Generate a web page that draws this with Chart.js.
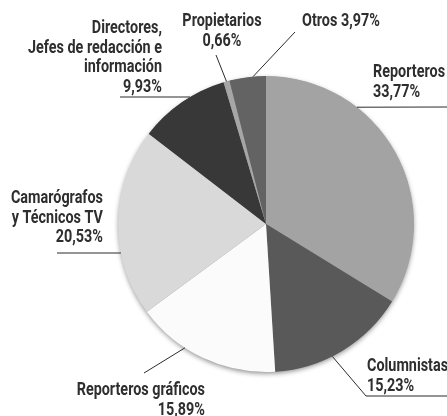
<!DOCTYPE html>
<html>
<head>
<meta charset="utf-8">
<script src="https://cdn.jsdelivr.net/npm/chart.js@4.4.0/dist/chart.umd.min.js"></script>
<style>
  html, body { margin: 0; padding: 0; background: #fff; }
  #pie { display: block; }
</style>
</head>
<body>
<canvas id="pie" width="447" height="416"></canvas>
<script>
// data, clockwise from the top
const categories = ['Reporteros', 'Columnistas', 'Reporteros gráficos', 'Camarógrafos y Técnicos TV',
                    'Directores, Jefes de redacción e información', 'Propietarios', 'Otros'];
const shares = [33.77, 15.23, 15.89, 20.53, 9.93, 0.66, 3.97];
const labelTexts = [
    ['Reporteros', '33,77%'],
    ['Columnistas', '15,23%'],
    ['Reporteros gráficos', '15,89%'],
    ['Camarógrafos', 'y Técnicos TV', '20,53%'],
    ['Directores,', 'Jefes de redacción e', 'información', '9,93%'],
    ['Propietarios', '0,66%'],
    ['Otros 3,97%']
];

const sliceColors = ['#a3a3a3', '#595959', '#fbfbfb', '#d9d9d9', '#383838', '#a6a6a6', '#636363'];

// where each label sits and how its leader line runs (edge = degrees clockwise from top)
const labelLayout = [
    {x: 373, y: 77, align: 'left', edge: 37.9, path: [[447, 107]]},
    {x: 367, y: 371, align: 'left', edge: 153.4, path: [[366, 396], [447, 396]]},
    {x: 205, y: 395, align: 'right', edge: 213.2, path: [[144, 373]]},
    {x: 103, y: 203, align: 'right', edge: 258.7, path: [[57, 253]]},
    {x: 162, y: 33, align: 'right', edge: 329.1, path: [[120, 97]]},
    {x: 222, y: 26, align: 'center', edge: 344.5, path: [[216, 55]]},
    {x: 302, y: 26, align: 'left', edge: 355, path: [[295, 32]]}
];

const LABEL_FONT = 'bold 18px Roboto, "Liberation Sans", sans-serif';
const LINE_GAP = 19.5;
// the printed face is condensed: squeeze so this line is 134px wide
const REF_LINE = 'Jefes de redacción e', REF_WIDTH = 134;

const shadowPlugin = {
    id: 'pieShadow',
    beforeDatasetsDraw(chart) {
        const arc = chart.getDatasetMeta(0).data[0];
        if (!arc) return;
        const ctx = chart.ctx;
        ctx.save();
        ctx.shadowColor = 'rgba(0,0,0,0.45)';
        ctx.shadowBlur = 5;
        ctx.shadowOffsetX = 0;
        ctx.shadowOffsetY = 2;
        ctx.fillStyle = '#888';
        ctx.beginPath();
        ctx.arc(arc.x, arc.y, arc.outerRadius - 0.5, 0, Math.PI * 2);
        ctx.fill();
        ctx.restore();
    }
};

const labelPlugin = {
    id: 'sliceLabels',
    afterDatasetsDraw(chart) {
        const arc = chart.getDatasetMeta(0).data[0];
        if (!arc) return;
        const ctx = chart.ctx;
        const cx = arc.x, cy = arc.y, r = arc.outerRadius;
        ctx.save();
        ctx.strokeStyle = '#2b2b2b';
        ctx.lineWidth = 1;
        labelLayout.forEach(function (lay) {
            const a = lay.edge * Math.PI / 180;
            ctx.beginPath();
            ctx.moveTo(cx + r * Math.sin(a), cy - r * Math.cos(a));
            lay.path.forEach(function (p) { ctx.lineTo(p[0], p[1]); });
            ctx.stroke();
        });
        ctx.font = LABEL_FONT;
        ctx.fillStyle = '#2e2e2e';
        ctx.textBaseline = 'alphabetic';
        const sx = REF_WIDTH / ctx.measureText(REF_LINE).width;
        labelLayout.forEach(function (lay, i) {
            ctx.textAlign = lay.align;
            labelTexts[i].forEach(function (line, j) {
                ctx.save();
                ctx.translate(lay.x, lay.y + j * LINE_GAP);
                ctx.scale(sx, 1);
                ctx.fillText(line, 0, 0);
                ctx.restore();
            });
        });
        ctx.restore();
    }
};

new Chart(document.getElementById('pie'), {
    type: 'pie',
    data: {
        labels: categories,
        datasets: [{
            data: shares,
            backgroundColor: sliceColors,
            borderWidth: 0
        }]
    },
    options: {
        responsive: false,
        devicePixelRatio: 1,
        animation: false,
        layout: {
            padding: {top: 76, bottom: 44, left: 118, right: 33}
        },
        plugins: {
            legend: {display: false},
            tooltip: {enabled: false}
        }
    },
    plugins: [shadowPlugin, labelPlugin]
});
</script>
</body>
</html>
